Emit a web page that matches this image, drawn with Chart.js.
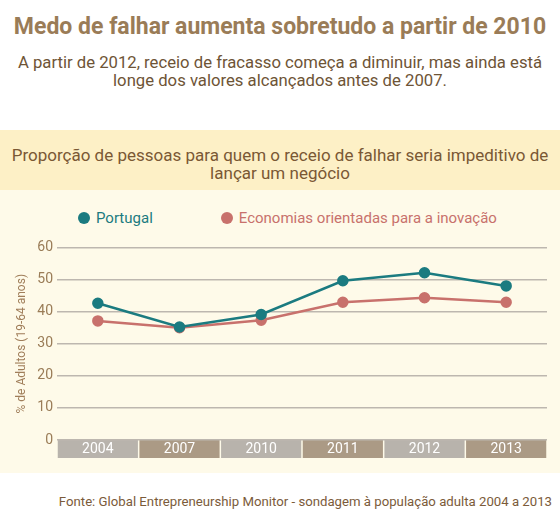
<!DOCTYPE html>
<html lang="pt">
<head>
<meta charset="utf-8">
<script src="https://cdn.jsdelivr.net/npm/chart.js@4"></script>
<style>
  body { margin: 0; width: 560px; height: 531px; background: #fff; font-family: Roboto, sans-serif; position: relative; overflow: hidden; }
  #titulo { position: absolute; top: 14px; left: 0; width: 560px; text-align: center; font-weight: bold; font-size: 23px; line-height: 26px; color: #9a7c57; white-space: nowrap; }
  #subtitulo { position: absolute; top: 54px; left: 0; width: 560px; text-align: center; font-size: 16.7px; line-height: 17.5px; color: #6e5436; white-space: nowrap; }
  #faixa { position: absolute; top: 130px; left: 0; width: 560px; height: 60px; background: #fdf0c6; }
  #faixa div { padding-top: 16px; text-align: center; font-size: 17px; line-height: 18px; color: #7a5834; white-space: nowrap; }
  #painel { position: absolute; top: 190px; left: 0; width: 560px; height: 283px; background: #fefae9; }
  #legenda { position: absolute; top: 19px; left: 78px; display: flex; font-size: 15px; line-height: 18px; white-space: nowrap; }
  #legenda span.item { display: flex; align-items: center; margin-right: 68px; }
  #legenda span.dot { width: 12px; height: 12px; border-radius: 50%; margin-right: 6px; }
  #grafico { position: absolute; top: 45px; left: 0; }
  #fonte { position: absolute; top: 494px; right: 8px; font-size: 13.2px; line-height: 16px; color: #7b5b3a; white-space: nowrap; }
</style>
</head>
<body>
<div id="titulo">Medo de falhar aumenta sobretudo a partir de 2010</div>
<div id="subtitulo">A partir de 2012, receio de fracasso começa a diminuir, mas ainda está<br>longe dos valores alcançados antes de 2007.</div>
<div id="faixa"><div>Proporção de pessoas para quem o receio de falhar seria impeditivo de<br>lançar um negócio</div></div>
<div id="painel">
  <div id="legenda"></div>
  <canvas id="grafico" width="560" height="238"></canvas>
</div>
<div id="fonte">Fonte: Global Entrepreneurship Monitor - sondagem à população adulta 2004 a 2013</div>
<script>
const anos = ['2004', '2007', '2010', '2011', '2012', '2013'];
const portugal = [42.6, 35.2, 39.1, 49.6, 52.1, 48.0];
const economias = [37.1, 35.0, 37.3, 42.9, 44.3, 42.9];
const nomesSeries = ['Portugal', 'Economias orientadas para a inovação'];
const coresSeries = ['#1b7b80', '#c8716c'];
const coresFaixa = ['#b8b3ac', '#ab9a85'];

const faixas = {
    id: 'faixas',
    beforeDraw(chart) {
        const { ctx, chartArea, scales: { x } } = chart;
        const w = chartArea.width / anos.length;
        anos.forEach((a, i) => {
            const cx = x.getPixelForTick(i);
            ctx.fillStyle = coresFaixa[i % 2];
            ctx.fillRect(cx - w / 2 + 0.75, chartArea.bottom, w - 1.5, 18);
        });
    }
};

const data = {
    labels: anos,
    datasets: [portugal, economias].map((valores, i) => ({
        label: nomesSeries[i],
        data: valores,
        borderColor: coresSeries[i],
        backgroundColor: coresSeries[i],
        borderWidth: 2.5,
        pointRadius: 4.5,
        pointHoverRadius: 4.5,
        tension: 0
    }))
};

const grafico = new Chart(document.getElementById('grafico'), {
    type: 'line',
    data: data,
    options: {
        responsive: false,
        animation: false,
        layout: { padding: { top: 12, right: 13, bottom: 15, left: 0 } },
        plugins: { legend: { display: false }, tooltip: { enabled: false } },
        scales: {
            x: {
                offset: true,
                grid: { display: false, drawTicks: false },
                border: { display: false },
                ticks: { color: '#ffffff', font: { family: 'Roboto', size: 14 }, padding: 1 },
                afterFit(scale) { scale.height = 18; }
            },
            y: {
                min: 0,
                max: 60,
                grid: { color: '#bdb7af', lineWidth: 1.5, drawTicks: false },
                border: { display: false },
                ticks: { stepSize: 10, color: '#9a7c57', font: { family: 'Roboto', size: 14 }, padding: 4 },
                title: {
                    display: true,
                    text: '% de Adultos (19-64 anos)',
                    color: '#a07e5a',
                    font: { family: 'Roboto', size: 12 },
                    padding: { top: 15, bottom: 0 }
                },
                afterFit(scale) { scale.width = 57; }
            }
        }
    },
    plugins: [faixas]
});

const legenda = document.getElementById('legenda');
grafico.data.datasets.forEach(ds => {
    const item = document.createElement('span');
    item.className = 'item';
    item.style.color = ds.borderColor;
    const dot = document.createElement('span');
    dot.className = 'dot';
    dot.style.background = ds.borderColor;
    item.appendChild(dot);
    item.appendChild(document.createTextNode(ds.label));
    legenda.appendChild(item);
});
</script>
</body>
</html>
